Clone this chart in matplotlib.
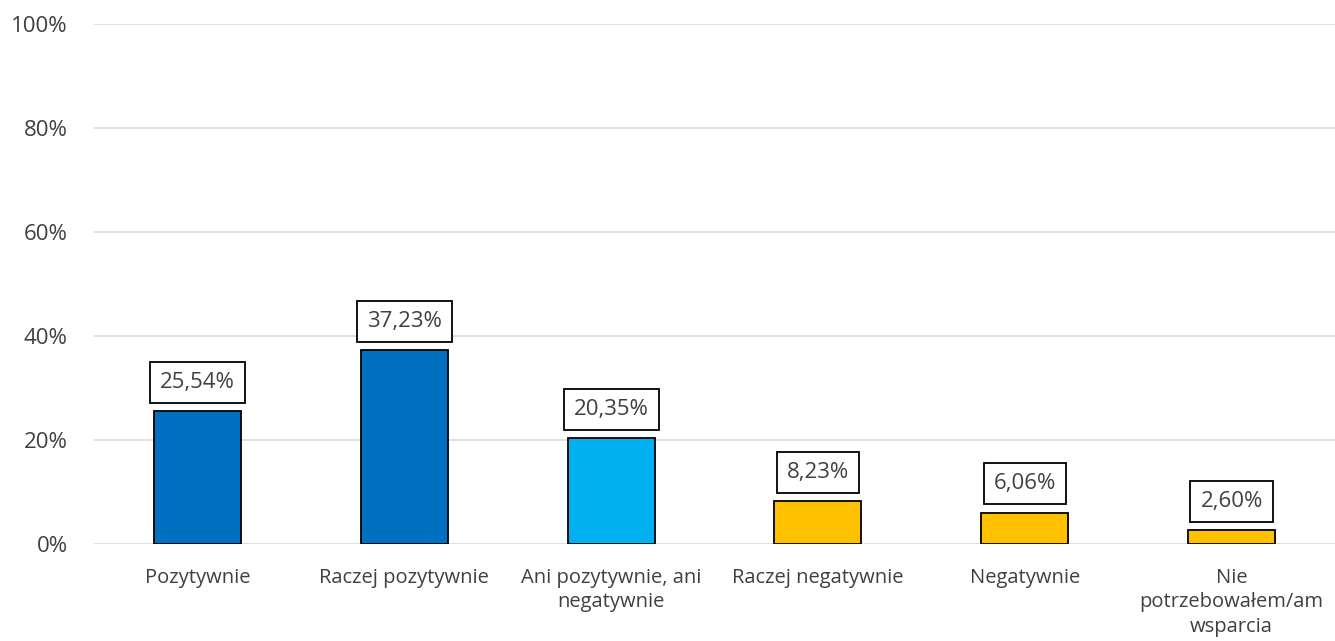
import matplotlib
matplotlib.use("Agg")
import matplotlib.pyplot as plt

categories = ["Pozytywnie", "Raczej pozytywnie", "Ani pozytywnie, ani\nnegatywnie",
              "Raczej negatywnie", "Negatywnie", "Nie\npotrzebowałem/am\nwsparcia"]
values = [25.54, 37.23, 20.35, 8.23, 6.06, 2.60]
labels = ["25,54%", "37,23%", "20,35%", "8,23%", "6,06%", "2,60%"]
colors = ["#0070C0", "#0070C0", "#00B0F0", "#FFC000", "#FFC000", "#FFC000"]
yticks = [0, 20, 40, 60, 80, 100]
ytick_labels = ["0%", "20%", "40%", "60%", "80%", "100%"]

plt.rcParams['font.family'] = ['Open Sans', 'DejaVu Sans']
fig = plt.figure(figsize=(13.35, 6.41), dpi=100)
ax = fig.add_axes([0.0704, 0.1513, 0.9296, 0.8113])

x = range(len(categories))
ax.bar(x, values, width=0.42, color=colors, edgecolor="black", linewidth=1.3, zorder=3)
ax.set_xlim(-0.5, len(categories) - 0.5)
ax.set_ylim(0, 100)
ax.set_yticks(yticks)
ax.set_yticklabels(ytick_labels, fontsize=16, color="#404040")
ax.set_xticks(list(x))
ax.set_xticklabels(categories, fontsize=14.5, color="#404040", linespacing=1.3)
ax.tick_params(axis="both", length=0)
ax.tick_params(axis="x", pad=17)
ax.tick_params(axis="y", pad=19)
ax.grid(axis="y", color="#D9D9D9", linewidth=1.2, zorder=0)
for s in ax.spines.values():
    s.set_visible(False)

for xi, v, lab in zip(x, values, labels):
    ax.annotate(lab, (xi, v), xytext=(0, 13), textcoords="offset points",
                ha="center", va="bottom", fontsize=16, color="#404040", zorder=5,
                bbox=dict(boxstyle="square,pad=0.45", fc="white", ec="black", lw=1.3))

fig.savefig("out.png", dpi=100)
